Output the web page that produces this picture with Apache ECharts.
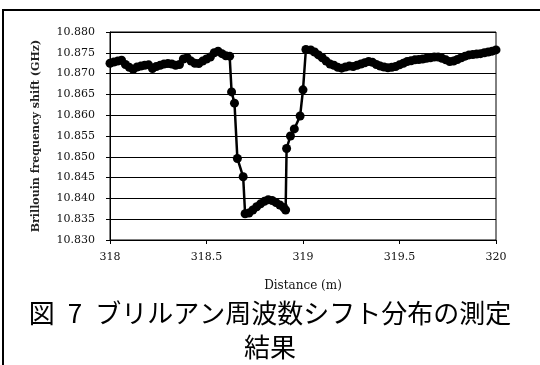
<!DOCTYPE html>
<html><head><meta charset="utf-8">
<script src="https://cdn.jsdelivr.net/npm/echarts@6/dist/echarts.min.js"></script>
<style>html,body{margin:0;padding:0;background:#fff}#c{width:540px;height:365px}</style>
</head><body><div id="c"></div>
<script>
var distance = [
318.00,318.02,318.04,318.06,318.08,318.10,318.12,318.14,318.16,318.18,
318.20,318.22,318.24,318.26,318.28,318.30,318.32,318.34,318.36,318.38,
318.40,318.42,318.44,318.46,318.48,318.50,318.52,318.54,318.56,318.58,
318.60,318.62,
318.63,318.645,318.66,318.69,318.70,318.72,318.74,318.76,318.78,318.80,
318.82,318.84,318.86,318.88,318.90,318.91,318.915,318.935,318.955,318.985,
319.00,319.015,
319.04,319.06,319.08,319.10,319.12,319.14,319.16,319.18,319.20,319.22,
319.24,319.26,319.28,319.30,319.32,319.34,319.36,319.38,319.40,319.42,
319.44,319.46,319.48,319.50,319.52,319.54,319.56,319.58,319.60,319.62,
319.64,319.66,319.68,319.70,319.72,319.74,319.76,319.78,319.80,319.82,
319.84,319.86,319.88,319.90,319.92,319.94,319.96,319.98,320.00
];
var shiftGHz = [
10.8725,10.8728,10.8730,10.8732,10.8722,10.8715,10.8710,10.8716,10.8718,10.8720,
10.8721,10.8712,10.8717,10.8720,10.8723,10.8724,10.8723,10.8720,10.8722,10.8735,
10.8738,10.8730,10.8725,10.8724,10.8730,10.8735,10.8740,10.8750,10.8754,10.8748,
10.8743,10.8742,
10.8656,10.8629,10.8496,10.8452,10.8363,10.8365,10.8372,10.8380,10.8387,10.8393,
10.8397,10.8395,10.8390,10.8384,10.8378,10.8372,10.8520,10.8550,10.8567,10.8598,
10.8661,10.8758,
10.8757,10.8752,10.8745,10.8738,10.8730,10.8723,10.8720,10.8715,10.8713,10.8716,
10.8718,10.8717,10.8720,10.8723,10.8726,10.8729,10.8727,10.8722,10.8718,10.8716,
10.8714,10.8715,10.8717,10.8721,10.8725,10.8729,10.8731,10.8733,10.8734,10.8735,
10.8737,10.8738,10.8740,10.8740,10.8737,10.8733,10.8729,10.8730,10.8734,10.8738,
10.8742,10.8745,10.8746,10.8747,10.8748,10.8750,10.8752,10.8754,10.8757
];
var xTicks = [318, 318.5, 319, 319.5, 320];
var yTicks = [10.830,10.835,10.840,10.845,10.850,10.855,10.860,10.865,10.870,10.875,10.880];
var xName = 'Distance (m)';
var yName = 'Brillouin frequency shift (GHz)';
var caption1 = '図\u20027\u2002ブリルアン周波数シフト分布の測定';
var caption2 = '結果';

var pts = distance.map(function(d,i){return [d, shiftGHz[i]];});
var serif = 'DejaVu Serif';
var chart = echarts.init(document.getElementById('c'), null, {renderer:'canvas'});
chart.setOption({
  animation:false,
  backgroundColor:'#fff',
  grid:{left:110,right:44,top:32,bottom:125,show:true,borderColor:'#000',borderWidth:1,backgroundColor:'transparent'},
  xAxis:{type:'value',min:xTicks[0],max:xTicks[xTicks.length-1],interval:0.5,
    name:xName,nameLocation:'middle',nameGap:40,
    nameTextStyle:{fontFamily:serif,fontSize:12,color:'#111'},
    axisLine:{show:true,lineStyle:{color:'#000',width:1}},
    axisTick:{show:true,inside:false,length:4,lineStyle:{color:'#000'}},
    axisLabel:{fontFamily:serif,fontSize:11,color:'#111',margin:12,formatter:function(v){return String(v);}},
    splitLine:{show:false}},
  yAxis:{type:'value',min:yTicks[0],max:yTicks[yTicks.length-1],interval:0.005,
    name:yName,nameLocation:'middle',nameGap:68,nameRotate:90,
    nameTextStyle:{fontFamily:serif,fontSize:11,fontWeight:'bold',color:'#222'},
    axisLine:{show:true,lineStyle:{color:'#000',width:1}},
    axisTick:{show:true,inside:false,length:4,lineStyle:{color:'#000'}},
    axisLabel:{fontFamily:serif,fontSize:11,color:'#111',margin:15,formatter:function(v){return v.toFixed(3);}},
    splitLine:{show:true,lineStyle:{color:'#000',width:1}}},
  series:[{type:'line',data:pts,symbol:'circle',symbolSize:9,showSymbol:true,
    itemStyle:{color:'#000'},lineStyle:{color:'#000',width:2.5},z:5}],
  graphic:[
    {type:'rect',shape:{x:3,y:10,width:600,height:400},style:{fill:'none',stroke:'#000',lineWidth:2},z:100},
    {type:'text',left:'center',top:300,style:{text:caption1,font:'26px "Noto Sans CJK JP"',fill:'#000'},z:100},
    {type:'text',left:'center',top:334,style:{text:caption2,font:'26px "Noto Sans CJK JP"',fill:'#000'},z:100}
  ]
});
</script></body></html>
